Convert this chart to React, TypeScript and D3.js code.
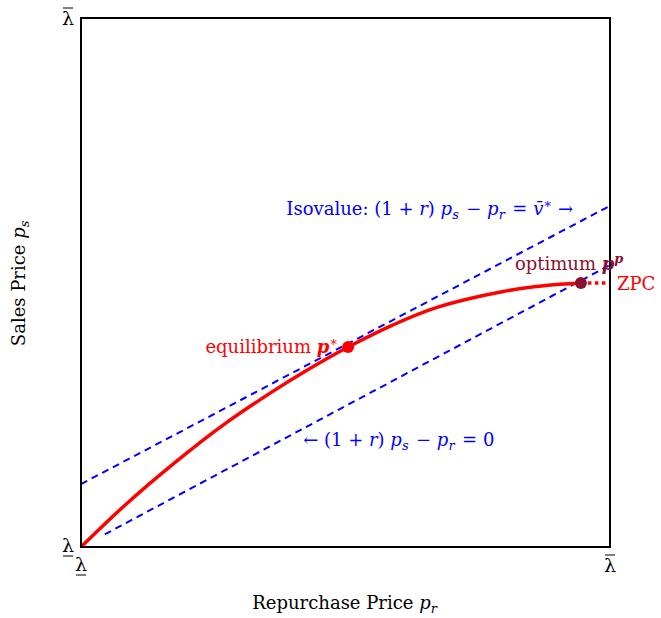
import React, { useEffect } from 'react';
import * as d3 from 'd3';

// red curve (repurchase price vs sales price)
const curvePr = [0, 0.083, 0.178, 0.275, 0.367, 0.42, 0.505, 0.59, 0.673, 0.798, 0.875, 0.945];
const curvePs = [0, 0.079, 0.16, 0.235, 0.297, 0.33, 0.378, 0.42, 0.453, 0.483, 0.494, 0.499];

// isovalue lines as [pr, ps] end points
const isoUpper = [[0, 0.119], [1, 0.645]];
const isoZero = [[0.045, 0.024], [1, 0.533]];

const equilibrium = [0.505, 0.378];
const optimum = [0.945, 0.499];
const zpcEnd = [1, 0.499];

const W = 661;
const H = 618;
const margin = { top: 18, right: 51, bottom: 71, left: 81 };
const serif = '"DejaVu Serif", "Liberation Serif", serif';
const fs = 18;

export default function App() {
  useEffect(() => {
    document.body.style.margin = '0';
  }, []);

  const width = W - margin.left - margin.right;
  const height = H - margin.top - margin.bottom;
  const x = d3.scaleLinear().domain([0, 1]).range([margin.left, margin.left + width]);
  const y = d3.scaleLinear().domain([0, 1]).range([margin.top + height, margin.top]);

  const pts = curvePr.map((p, i) => [p, curvePs[i]]);
  const curve = d3
    .line<number[]>()
    .x((d) => x(d[0]))
    .y((d) => y(d[1]))
    .curve(d3.curveCatmullRom);

  // italic subscript that drops by a few pixels and comes back
  const sub = (t: string) => [
    <tspan key="s" dy={4} fontSize="0.72em" fontStyle="italic">{t}</tspan>,
    <tspan key="b" dy={-4}>{'\u200a'}</tspan>,
  ];
  const sup = (t: string, bold = false) => (
    <tspan dy={-7} fontSize="0.72em" fontStyle="italic" fontWeight={bold ? 'bold' : 'normal'}>{t}</tspan>
  );

  const lam = (cx: number, cy: number, over: boolean) => (
    <g>
      <text x={cx} y={cy} textAnchor="middle" fontSize={19} fontFamily={serif}>λ</text>
      <line
        x1={cx - 5}
        x2={cx + 5}
        y1={over ? cy - 17 : cy + 4}
        y2={over ? cy - 17 : cy + 4}
        stroke="#000"
        strokeWidth={1}
      />
    </g>
  );

  return (
    <svg width={W} height={H} style={{ display: 'block' }}>
      <rect width={W} height={H} fill="#fff" />
      {/* isovalue lines */}
      <line
        x1={x(isoUpper[0][0])} y1={y(isoUpper[0][1])}
        x2={x(isoUpper[1][0])} y2={y(isoUpper[1][1])}
        stroke="#0000ff" strokeWidth={2} strokeDasharray="7,5"
      />
      <line
        x1={x(isoZero[0][0])} y1={y(isoZero[0][1])}
        x2={x(isoZero[1][0])} y2={y(isoZero[1][1])}
        stroke="#0000ff" strokeWidth={2} strokeDasharray="7,5"
      />
      {/* curve */}
      <path d={curve(pts) || ''} fill="none" stroke="#ff0000" strokeWidth={3.5} />
      <line
        x1={x(optimum[0])} y1={y(optimum[1])}
        x2={x(zpcEnd[0])} y2={y(zpcEnd[1])}
        stroke="#ff0000" strokeWidth={3.5} strokeDasharray="3.5,3.5"
      />
      <rect x={margin.left} y={margin.top} width={width} height={height} fill="none" stroke="#000" strokeWidth={2} />
      <circle cx={x(equilibrium[0])} cy={y(equilibrium[1])} r={6} fill="#ff0000" />
      <circle cx={x(optimum[0])} cy={y(optimum[1])} r={6} fill="#8b0f2e" />

      {/* tick labels */}
      {lam(x(0) - 13, y(1) + 7, true)}
      {lam(x(0) - 13, y(0) + 5, false)}
      {lam(x(0), y(0) + 24, false)}
      {lam(x(1), y(0) + 25, true)}

      {/* axis titles */}
      <text x={x(0.5)} y={H - 9} textAnchor="middle" fontSize={fs} fontFamily={serif}>
        Repurchase Price <tspan fontStyle="italic">p</tspan>{sub('r')}
      </text>
      <text
        transform={`translate(25,${y(0.5)}) rotate(-90)`}
        textAnchor="middle" fontSize={fs} fontFamily={serif}
      >
        Sales Price <tspan fontStyle="italic">p</tspan>{sub('s')}
      </text>

      {/* annotations */}
      <text x={x(0.93)} y={y(isoUpper[1][1]) + 9} textAnchor="end" fontSize={fs} fontFamily={serif} fill="#0000ff">
        Isovalue: (1 + <tspan fontStyle="italic">r</tspan>) <tspan fontStyle="italic">p</tspan>{sub('s')}
        <tspan> − </tspan><tspan fontStyle="italic">p</tspan>{sub('r')}
        <tspan> = </tspan><tspan fontStyle="italic">v̄</tspan>{sup('∗')}<tspan dy={7}> →</tspan>
      </text>
      <text x={x(0.42)} y={y(0.19)} fontSize={fs} fontFamily={serif} fill="#0000ff">
        ← (1 + <tspan fontStyle="italic">r</tspan>) <tspan fontStyle="italic">p</tspan>{sub('s')}
        <tspan> − </tspan><tspan fontStyle="italic">p</tspan>{sub('r')}
        <tspan> = 0</tspan>
      </text>
      <text x={x(equilibrium[0]) - 10} y={y(equilibrium[1]) + 6} textAnchor="end" fontSize={fs} fontFamily={serif} fill="#ff0000">
        equilibrium <tspan fontStyle="italic" fontWeight="bold">p</tspan>{sup('∗')}
      </text>
      <text x={x(optimum[0]) - 66} y={y(optimum[1]) - 13} fontSize={fs} fontFamily={serif} fill="#8b0f2e">
        optimum <tspan fontStyle="italic" fontWeight="bold">p</tspan>{sup('p', true)}
      </text>
      <text x={x(1) + 7} y={y(optimum[1]) + 7} fontSize={fs} fontFamily={serif} fill="#ff0000">
        ZPC
      </text>
    </svg>
  );
}
